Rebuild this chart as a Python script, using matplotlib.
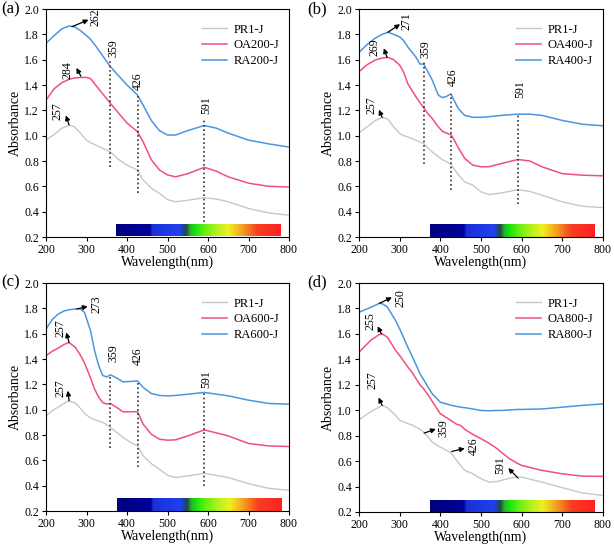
import numpy as np
import matplotlib
matplotlib.use("Agg")
import matplotlib.pyplot as plt
from matplotlib.colors import LinearSegmentedColormap

plt.rcParams['font.family'] = ['Liberation Serif', 'DejaVu Serif']
plt.rcParams['mathtext.fontset'] = 'stix'

C_PR = '#c4c8cc'
C_OA = '#f0507a'
C_RA = '#4a96e0'

# ---------------- Panel (a) ----------------
wl_a = [200, 220, 240, 257, 270, 285, 300, 310, 320, 340, 359, 380, 400, 415, 426, 440, 460, 480, 500, 520, 550, 591, 620, 650, 700, 750, 800]
pr_a = [0.965, 1.01, 1.06, 1.083, 1.07, 1.02, 0.965, 0.945, 0.93, 0.90, 0.872, 0.81, 0.767, 0.745, 0.727, 0.65, 0.585, 0.545, 0.495, 0.478, 0.49, 0.51, 0.50, 0.478, 0.425, 0.39, 0.372]
oa_a = [1.28, 1.37, 1.42, 1.445, 1.455, 1.46, 1.46, 1.45, 1.41, 1.33, 1.255, 1.175, 1.10, 1.06, 1.03, 0.95, 0.81, 0.73, 0.69, 0.675, 0.70, 0.75, 0.72, 0.675, 0.625, 0.60, 0.595]
ra_a = [1.729, 1.79, 1.845, 1.866, 1.86, 1.83, 1.79, 1.76, 1.72, 1.63, 1.545, 1.47, 1.40, 1.355, 1.32, 1.24, 1.12, 1.04, 1.005, 1.005, 1.04, 1.08, 1.06, 1.02, 0.965, 0.935, 0.91]

# ---------------- Panel (b) ----------------
wl_b = [200, 220, 240, 257, 271, 285, 300, 310, 320, 340, 350, 359, 370, 380, 395, 405, 415, 426, 435, 445, 460, 480, 500, 520, 550, 591, 620, 650, 700, 750, 800]
pr_b = [1.022, 1.07, 1.12, 1.144, 1.13, 1.07, 1.017, 1.0, 0.99, 0.964, 0.95, 0.938, 0.90, 0.872, 0.835, 0.81, 0.795, 0.772, 0.73, 0.69, 0.635, 0.609, 0.556, 0.535, 0.548, 0.574, 0.56, 0.53, 0.477, 0.443, 0.432]
oa_b = [1.505, 1.56, 1.597, 1.613, 1.618, 1.60, 1.557, 1.50, 1.41, 1.307, 1.26, 1.22, 1.17, 1.136, 1.07, 1.035, 1.02, 1.009, 0.96, 0.90, 0.82, 0.767, 0.754, 0.755, 0.78, 0.812, 0.80, 0.754, 0.70, 0.688, 0.683]
ra_b = [1.657, 1.72, 1.77, 1.80, 1.816, 1.80, 1.78, 1.75, 1.70, 1.62, 1.565, 1.565, 1.50, 1.44, 1.32, 1.30, 1.31, 1.33, 1.27, 1.21, 1.16, 1.145, 1.145, 1.15, 1.16, 1.17, 1.17, 1.16, 1.12, 1.09, 1.078]

# ---------------- Panel (c) ----------------
wl_c = [200, 215, 230, 245, 257, 273, 285, 295, 310, 320, 330, 340, 350, 359, 375, 390, 410, 426, 440, 460, 480, 500, 520, 550, 591, 650, 700, 750, 800]
pr_c = [0.951, 0.99, 1.02, 1.05, 1.07, 1.05, 1.01, 0.97, 0.935, 0.92, 0.91, 0.90, 0.88, 0.859, 0.82, 0.78, 0.74, 0.714, 0.635, 0.574, 0.53, 0.482, 0.464, 0.477, 0.498, 0.464, 0.416, 0.379, 0.364]
oa_c = [1.426, 1.46, 1.486, 1.515, 1.53, 1.49, 1.43, 1.37, 1.25, 1.162, 1.10, 1.055, 1.045, 1.049, 1.017, 0.983, 0.983, 0.985, 0.885, 0.806, 0.767, 0.759, 0.762, 0.793, 0.84, 0.793, 0.733, 0.714, 0.709]
ra_c = [1.636, 1.71, 1.755, 1.78, 1.789, 1.795, 1.795, 1.768, 1.623, 1.465, 1.35, 1.27, 1.258, 1.275, 1.249, 1.22, 1.223, 1.228, 1.175, 1.128, 1.112, 1.109, 1.112, 1.122, 1.136, 1.109, 1.075, 1.049, 1.043]

# ---------------- Panel (d) ----------------
wl_d = [200, 230, 250, 257, 270, 290, 300, 320, 330, 350, 359, 370, 380, 400, 426, 440, 450, 460, 480, 500, 520, 540, 550, 570, 591, 600, 650, 700, 750, 800]
pr_d = [0.925, 0.99, 1.025, 1.037, 1.02, 0.96, 0.92, 0.895, 0.885, 0.85, 0.828, 0.79, 0.749, 0.71, 0.666, 0.605, 0.565, 0.527, 0.50, 0.462, 0.435, 0.44, 0.448, 0.465, 0.475, 0.474, 0.435, 0.391, 0.349, 0.33]
oa_d = [1.456, 1.553, 1.595, 1.60, 1.574, 1.47, 1.43, 1.34, 1.299, 1.20, 1.168, 1.12, 1.07, 0.972, 0.92, 0.89, 0.88, 0.85, 0.81, 0.776, 0.74, 0.697, 0.67, 0.619, 0.58, 0.566, 0.527, 0.50, 0.482, 0.48]
ra_d = [1.77, 1.81, 1.84, 1.838, 1.81, 1.704, 1.64, 1.495, 1.43, 1.286, 1.24, 1.18, 1.13, 1.063, 1.04, 1.03, 1.024, 1.02, 1.01, 0.998, 0.996, 0.998, 0.998, 1.002, 1.006, 1.006, 1.01, 1.024, 1.038, 1.05]

samples = ['200', '400', '600', '800']
letters = ['(a)', '(b)', '(c)', '(d)']

# dotted marker lines: (wavelength, ymin, ymax)
vlines_a = [(359, 0.75, 1.60), (426, 0.55, 1.32), (591, 0.32, 1.13)]
vlines_b = [(359, 0.78, 1.58), (426, 0.57, 1.33), (591, 0.46, 1.17)]
vlines_c = [(359, 0.70, 1.27), (426, 0.55, 1.23), (591, 0.40, 1.14)]
vlines_d = []

# vertical labels above dotted lines: (text, x, y)
vlabels_a = [('359', 366, 1.69), ('426', 427, 1.43), ('591', 595, 1.24)]
vlabels_b = [('359', 364, 1.68), ('426', 431, 1.46), ('591', 596, 1.37)]
vlabels_c = [('359', 366, 1.45), ('426', 427, 1.425), ('591', 595, 1.24)]
vlabels_d = []

# arrow annotations: (text, tail_x, tail_y, head_x, head_y, text_x, text_y)
arrows_a = [('262', 264, 1.86, 305, 1.915, 322, 1.935),
            ('284', 286, 1.47, 275, 1.535, 252, 1.52),
            ('257', 257, 1.085, 249, 1.16, 229, 1.19)]
arrows_b = [('271', 271, 1.816, 301, 1.88, 317, 1.90),
            ('269', 269, 1.618, 261, 1.69, 239, 1.70),
            ('257', 257, 1.144, 249, 1.205, 230, 1.24)]
arrows_c = [('273', 276, 1.795, 303, 1.815, 325, 1.834),
            ('257', 257, 1.53, 250, 1.61, 237, 1.644),
            ('257', 257, 1.07, 254, 1.15, 237, 1.17)]
arrows_d = [('250', 250, 1.84, 281, 1.887, 301, 1.882),
            ('255', 255, 1.60, 246, 1.66, 229, 1.70),
            ('257', 257, 1.037, 248, 1.10, 233, 1.233),
            ('359', 360, 0.82, 389, 0.852, 408, 0.86),
            ('426', 428, 0.676, 460, 0.70, 482, 0.715),
            ('591', 591, 0.467, 567, 0.545, 547, 0.571)]

# visible spectrum bar nodes (wavelength, colour)
spec_wl = [373, 455, 462, 530, 545, 556, 565, 590, 620, 650, 670, 690, 720, 778]
spec_col = ['#00007e', '#00009a', '#1a30d8', '#2040f0', '#1c4a40', '#30b030', '#10e010', '#60f010',
            '#b0f020', '#f0f020', '#f4c020', '#f49020', '#f84020', '#ff2020']
bar_extent = [(373, 778, 0.21, 0.30), (375, 779, 0.20, 0.30), (376, 781, 0.20, 0.30), (374, 779, 0.20, 0.29)]

panels = [
    (wl_a, pr_a, oa_a, ra_a, vlines_a, vlabels_a, arrows_a),
    (wl_b, pr_b, oa_b, ra_b, vlines_b, vlabels_b, arrows_b),
    (wl_c, pr_c, oa_c, ra_c, vlines_c, vlabels_c, arrows_c),
    (wl_d, pr_d, oa_d, ra_d, vlines_d, vlabels_d, arrows_d),
]

positions = [
    [46/614, 1-237/548, 243/614, 228/548],
    [359/614, 1-237/548, 244/614, 228/548],
    [46/614, 1-511/548, 243/614, 228/548],
    [359/614, 1-512/548, 244/614, 229/548],
]
letter_pos = [(0.002, 0.998), (0.501, 0.998), (0.002, 0.499), (0.501, 0.499)]

span = spec_wl[-1] - spec_wl[0]
cmap = LinearSegmentedColormap.from_list(
    'spec', [((w - spec_wl[0]) / span, c) for w, c in zip(spec_wl, spec_col)])

fig = plt.figure(figsize=(6.14, 5.48), dpi=100)
for i, (wl, pr, oa, ra, vls, vlabs, arrs) in enumerate(panels):
    ax = fig.add_axes(positions[i])
    s = samples[i]
    ax.plot(wl, pr, color=C_PR, lw=1.0, label='PR1-J')
    ax.plot(wl, oa, color=C_OA, lw=1.1, label='OA%s-J' % s)
    ax.plot(wl, ra, color=C_RA, lw=1.1, label='RA%s-J' % s)
    for (x, y0, y1) in vls:
        ax.plot([x, x], [y0, y1], color='#333333', lw=1.2, ls=(0, (1, 1.6)))
    for (t, x, y) in vlabs:
        ax.text(x, y, t, rotation=90, ha='center', va='center', fontsize=8.5)
    for (t, tx, ty, hx, hy, lx, ly) in arrs:
        ax.annotate('', xy=(hx, hy), xytext=(tx, ty),
                    arrowprops=dict(arrowstyle='-|>', color='black', lw=0.9,
                                    mutation_scale=7, shrinkA=0, shrinkB=0))
        ax.text(lx, ly, t, rotation=90, ha='center', va='center', fontsize=8.5)
    x0, x1, y0, y1 = bar_extent[i]
    grad = np.linspace(0, 1, 400).reshape(1, -1)
    ax.imshow(grad, cmap=cmap, aspect='auto', extent=[x0, x1, y0, y1], zorder=1)
    ax.set_xlim(200, 800)
    ax.set_ylim(0.2, 2.0)
    ax.set_xticks(np.arange(200, 801, 100))
    ax.set_yticks(np.arange(0.2, 2.01, 0.2))
    ax.set_yticklabels(['%.1f' % v for v in np.arange(0.2, 2.01, 0.2)])
    ax.tick_params(direction='out', length=3, width=0.8, labelsize=8.5, pad=2,
                   top=False, right=False)
    for sp in ax.spines.values():
        sp.set_linewidth(0.8)
    ax.set_xlabel('Wavelength(nm)', fontsize=10, labelpad=0)
    ax.set_ylabel('Absorbance', fontsize=10, labelpad=2)
    ax.legend(loc='upper right', frameon=False, fontsize=9, handlelength=2.0,
              handletextpad=0.5, labelspacing=0.3, borderaxespad=0.4,
              bbox_to_anchor=(1.0, 0.98))
    fig.text(letter_pos[i][0], letter_pos[i][1], letters[i], fontsize=12,
             ha='left', va='top')

fig.savefig('out.png', dpi=100)
